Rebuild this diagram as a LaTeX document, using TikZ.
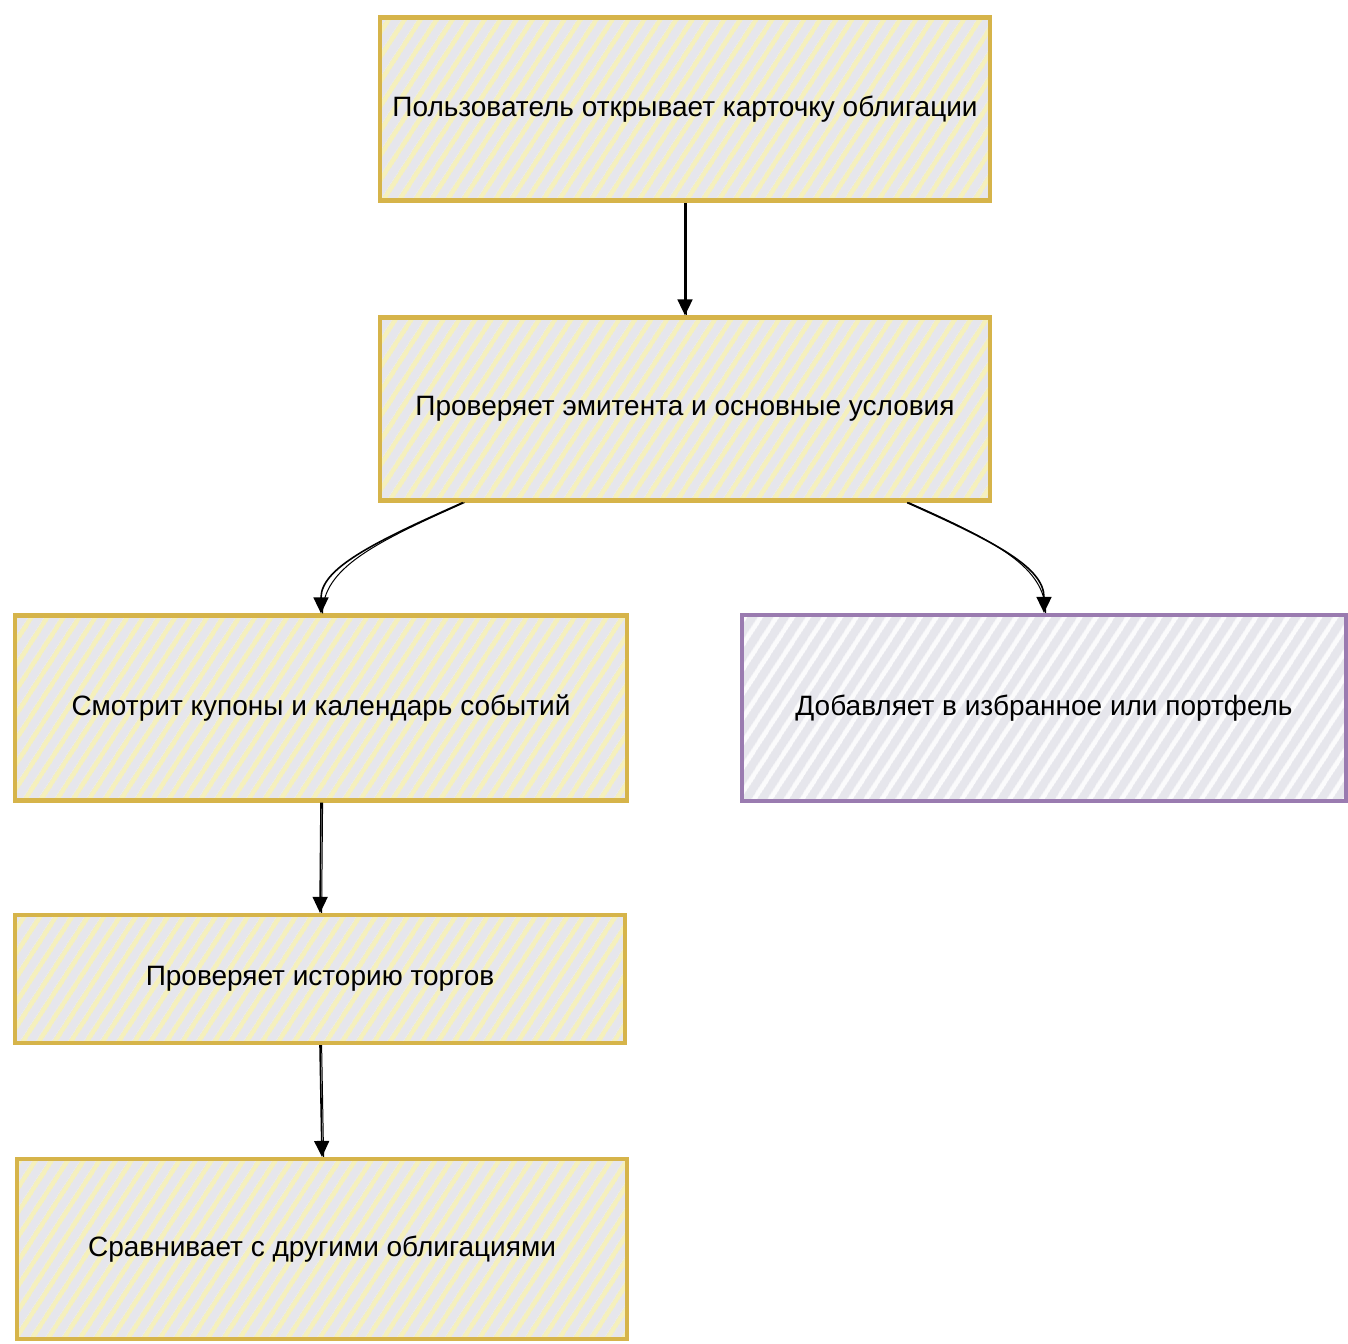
\documentclass[tikz,border=0pt]{standalone}
\usepackage{fontspec}
\setmainfont{Liberation Sans}
\usetikzlibrary{patterns.meta,arrows.meta}

\definecolor{boxgold}{HTML}{D6B44A}
\definecolor{boxpurple}{HTML}{9A7BB0}
\definecolor{hatchgray}{HTML}{E6E6EC}
\definecolor{hatchyellow}{HTML}{F5F0BC}

\begin{document}
\begin{tikzpicture}[
    x=0.5pt, y=-0.5pt,
    stepbox/.style={
        rectangle,
        minimum width=305pt,
        minimum height=91.5pt,
        draw=boxgold,
        line width=2.1pt,
        preaction={fill=hatchgray},
        pattern={Lines[angle=57,distance=6.5pt,line width=2.4pt]},
        pattern color=hatchyellow,
        postaction={draw=boxgold, line width=0.6pt, transform canvas={shift={(0.8pt,-0.8pt)}}},
        font=\fontsize{14pt}{17pt}\selectfont
    },
    endbox/.style={
        stepbox,
        draw=boxpurple,
        pattern color=white!85!hatchgray,
        postaction={draw=boxpurple, line width=0.6pt, transform canvas={shift={(0.8pt,-0.8pt)}}}
    },
    msg/.style={
        -{Triangle[length=8pt,width=7.5pt]},
        line width=0.8pt,
        postaction={draw, -, line width=0.5pt, transform canvas={xshift=0.8pt}}
    }
]
\useasboundingbox (0,0) rectangle (1348,1343);

% Steps
\node[stepbox] (open) at (685,109) {Пользователь открывает карточку облигации};
\node[stepbox] (check) at (685,409) {Проверяет эмитента и основные условия};
\node[stepbox, minimum width=306pt, minimum height=92.5pt] (coupons) at (321,708) {Смотрит купоны и календарь событий};
\node[endbox, minimum width=302pt, minimum height=93pt] (fav) at (1044,708) {Добавляет в избранное или портфель};
\node[stepbox, minimum height=64pt] (history) at (320,979) {Проверяет историю торгов};
\node[stepbox, minimum height=90pt] (compare) at (322,1249) {Сравнивает с другими облигациями};

% Arrows
\draw[msg] (open.south) -- (check.north);
\draw[msg] ([xshift=42.5pt]check.south west) .. controls +(-90,40) and +(0,-45) .. (coupons.north);
\draw[msg] ([xshift=-42.5pt]check.south east) .. controls +(90,40) and +(0,-45) .. (fav.north);
\draw[msg] (coupons.south) -- (history.north);
\draw[msg] (history.south) -- (compare.north);

\end{tikzpicture}
\end{document}
